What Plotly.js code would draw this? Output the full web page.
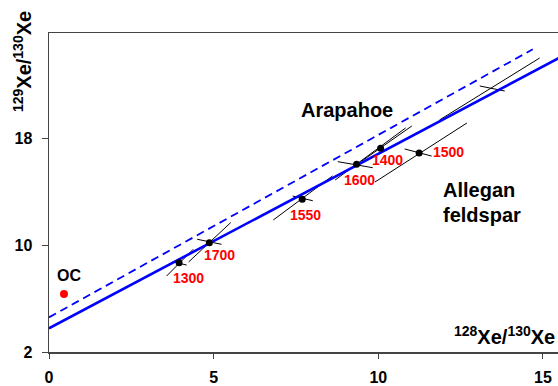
<!DOCTYPE html>
<html>
<head>
<meta charset="utf-8">
<script src="https://cdn.plot.ly/plotly-3.0.1.min.js"></script>
<style>html,body{margin:0;padding:0;background:#fff;}#chart{width:558px;height:386px;}</style>
</head>
<body>
<div id="chart"></div>
<script>
// ---- data ----
const stepLabels = ['1300', '1700', '1550', '1600', '1400', '1500'];
const xe128 = [3.95, 4.87, 7.69, 9.34, 10.07, 11.24];
const xe129 = [8.68, 10.17, 13.42, 16.03, 17.23, 16.88];

// correlation (long) error lines: start / end
const longX0 = [3.57, 4.24, 6.81, 8.69, 9.50, 9.90, 11.86];
const longY0 = [7.68, 8.73, 11.87, 14.86, 16.28, 14.71, 19.35];
const longX1 = [4.38, 5.52, 8.61, 10.83, 11.02, 12.69, 14.90];
const longY1 = [9.68, 11.68, 15.16, 18.75, 18.90, 19.12, 23.98];

// short (cross) error lines
const shortX0 = [3.76, 4.50, 7.40, 8.77, 10.80, 13.08];
const shortY0 = [8.75, 10.43, 13.66, 16.23, 17.18, 21.89];
const shortX1 = [4.18, 5.24, 8.01, 9.83, 11.62, 13.84];
const shortY1 = [8.50, 10.05, 13.31, 15.78, 16.65, 21.51];

// ordinary chondrite point
const ocX = [0.455];
const ocY = [6.34];

// isochron lines
const isoSolidX = [0, 15.6];
const isoSolidY = [3.77, 24.13];
const isoDashX = [0, 14.69];
const isoDashY = [4.59, 24.63];

const xTicks = [0, 5, 10, 15];
const yTicks = [2, 10, 18];

// ---- build segments ----
function segs(x0, y0, x1, y1) {
  const xs = [], ys = [];
  for (let i = 0; i < x0.length; i++) {
    xs.push(x0[i], x1[i], null);
    ys.push(y0[i], y1[i], null);
  }
  return {xs, ys};
}
const L = segs(longX0, longY0, longX1, longY1);
const S = segs(shortX0, shortY0, shortX1, shortY1);

const FONT = 'Arial, "Liberation Sans", sans-serif';

const traces = [
  {x: L.xs, y: L.ys, mode: 'lines', line: {color: '#000', width: 1}, hoverinfo: 'skip'},
  {x: S.xs, y: S.ys, mode: 'lines', line: {color: '#000', width: 1}, hoverinfo: 'skip'},
  {x: isoDashX, y: isoDashY, mode: 'lines', line: {color: '#0000ff', width: 1.8, dash: '8px,5px'}},
  {x: isoSolidX, y: isoSolidY, mode: 'lines', line: {color: '#0000ff', width: 2.6}},
  {x: xe128, y: xe129, mode: 'markers', marker: {color: '#000', size: 7}},
  {x: ocX, y: ocY, mode: 'markers', marker: {color: '#ff0000', size: 8}}
];

const labelShift = {
  '1300': [9, -15], '1700': [10, -12], '1550': [3, -16],
  '1600': [3, -16], '1400': [7, -12], '1500': [29, 1]
};

const annotations = stepLabels.map((t, i) => ({
  x: xe128[i], y: xe129[i], text: t, showarrow: false,
  xanchor: 'center', yanchor: 'middle',
  xshift: labelShift[t][0], yshift: labelShift[t][1],
  font: {family: FONT, size: 14, color: '#ff0000', weight: 'bold'}
}));

annotations.push(
  {x: ocX[0], y: ocY[0], text: 'OC', showarrow: false, xanchor: 'center', yanchor: 'middle',
   xshift: 5, yshift: 18, font: {family: FONT, size: 16, color: '#000', weight: 'bold'}},
  {x: 9.05, y: 20.09, text: 'Arapahoe', showarrow: false, xanchor: 'center', yanchor: 'middle',
   font: {family: FONT, size: 20, color: '#000', weight: 'bold'}},
  {x: 11.9, y: 14.11, text: 'Allegan', showarrow: false, xanchor: 'left', yanchor: 'middle',
   font: {family: FONT, size: 20, color: '#000', weight: 'bold'}},
  {x: 11.9, y: 12.28, text: 'feldspar', showarrow: false, xanchor: 'left', yanchor: 'middle',
   font: {family: FONT, size: 20, color: '#000', weight: 'bold'}},
  {xref: 'paper', yref: 'paper', x: 1, y: 0, xanchor: 'right', yanchor: 'bottom', xshift: -1, yshift: 2,
   text: '<sup>128</sup>Xe/<sup>130</sup>Xe', showarrow: false,
   font: {family: FONT, size: 20, color: '#000', weight: 'bold'}},
  {xref: 'paper', yref: 'paper', x: -0.053, y: 0.909, xanchor: 'center', yanchor: 'middle', textangle: -90,
   text: '<sup>129</sup>Xe/<sup>130</sup>Xe', showarrow: false,
   font: {family: FONT, size: 20, color: '#000', weight: 'bold'}}
);

const layout = {
  width: 558, height: 386,
  margin: {l: 49, r: 0, t: 33, b: 34, pad: 0},
  paper_bgcolor: '#fff', plot_bgcolor: '#fff',
  showlegend: false,
  xaxis: {
    range: [0, 15.457], tickvals: xTicks, ticktext: xTicks.map(String),
    ticks: 'outside', ticklen: 5, tickwidth: 1, tickcolor: '#444',
    showline: true, linecolor: '#444', linewidth: 1.5, mirror: true,
    showgrid: false, zeroline: false, ticklabelstandoff: 5,
    tickfont: {family: FONT, size: 16, color: '#000', weight: 'bold'}
  },
  yaxis: {
    range: [2, 25.85], tickvals: yTicks, ticktext: yTicks.map(String),
    ticks: 'outside', ticklen: 6, tickwidth: 1, tickcolor: '#444',
    showline: true, linecolor: '#444', linewidth: 1.5,
    showgrid: false, zeroline: false, ticklabelstandoff: 6,
    tickfont: {family: FONT, size: 16, color: '#000', weight: 'bold'}
  },
  annotations: annotations
};

Plotly.newPlot('chart', traces, layout, {staticPlot: true, displayModeBar: false});
</script>
</body>
</html>
